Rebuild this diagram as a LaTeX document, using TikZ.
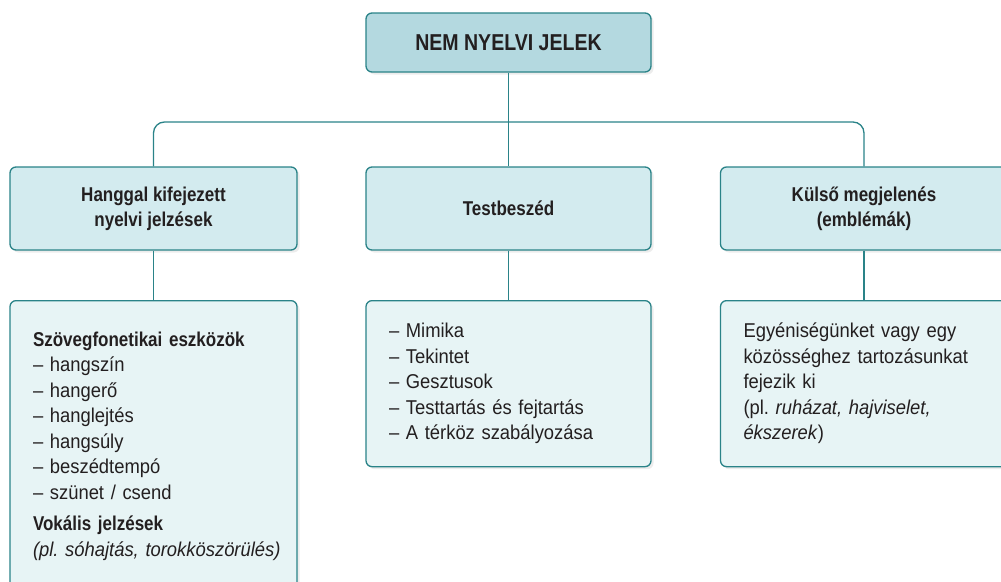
\documentclass[tikz,border=0pt]{standalone}
\usepackage{fontspec}
\setmainfont{Liberation Sans}[FakeStretch=0.92]
\newfontfamily\headfont{Liberation Sans}[FakeStretch=0.85]
\usetikzlibrary{shadows}
\definecolor{tealline}{HTML}{2A8388}
\definecolor{titlefill}{HTML}{B4D9E0}
\definecolor{headfill}{HTML}{D3EBEF}
\definecolor{listfill}{HTML}{E7F4F5}
\definecolor{inktext}{HTML}{231F20}
\newcommand{\hd}[1]{{\headfont\bfseries #1}}
\frenchspacing

\begin{document}
\begin{tikzpicture}[x=1pt,y=-1pt,
  box/.style={draw=tealline, line width=1.3pt, rounded corners=6pt, text=inktext,
    drop shadow={shadow xshift=2.5pt, shadow yshift=-2.5pt, fill=black!15}},
  headbox/.style={box, fill=headfill, minimum width=287pt, minimum height=83pt, align=center,
    font=\headfont\bfseries\fontsize{20}{25}\selectfont},
  listbox/.style={box, fill=listfill, anchor=north, text width=241pt, inner xsep=23pt,
    align=left, font=\fontsize{20}{25.5}\selectfont},
  link/.style={draw=tealline, line width=1.3pt}]
  \useasboundingbox (0,0) rectangle (1001,581);
  \clip (0,0) rectangle (1001,581);

  \node[box, fill=titlefill, minimum width=285pt, minimum height=59pt,
        font=\headfont\bfseries\fontsize{23}{27}\selectfont] (title) at (508.5,42.5) {NEM NYELVI JELEK};

  \node[headbox] (voice) at (153.5,208.5) {Hanggal kifejezett\\nyelvi jelzések};
  \node[headbox, minimum width=285pt] (body) at (508.5,208.5) {Testbeszéd};
  \node[headbox] (look) at (864,208.5) {Külső megjelenés\\(emblémák)};

  \node[listbox, inner ysep=31pt] (voiceList) at (153.5,300) {%
    \hd{Szövegfonetikai eszközök}\\
    – hangszín\\
    – hangerő\\
    – hanglejtés\\
    – hangsúly\\
    – beszédtempó\\
    – szünet / csend\\[6pt]
    \hd{Vokális jelzések}\\
    \mbox{\textit{(pl. sóhajtás, torokköszörülés)}}};
  \node[listbox, text width=239pt, minimum height=166pt] (bodyList) at (508.5,300) {%
    – Mimika\\
    – Tekintet\\
    – Gesztusok\\
    – Testtartás és fejtartás\\
    – A térköz szabályozása};
  \node[listbox, minimum height=166pt] (lookList) at (864,300) {%
    Egyéniségünket vagy egy\\
    közösséghez tartozásunkat\\
    fejezik ki\\
    (pl. \textit{ruházat, hajviselet,}\\
    \textit{ékszerek})};

  \coordinate (hub) at (508.5,122);
  \draw[link, rounded corners=11pt] (voice.north) |- (hub) -| (look.north);
  \draw[link] (title) -- (body);
  \draw[link] (voice) -- (voiceList);
  \draw[link] (body) -- (bodyList);
  \draw[link] (look) -- (lookList);
\end{tikzpicture}
\end{document}
